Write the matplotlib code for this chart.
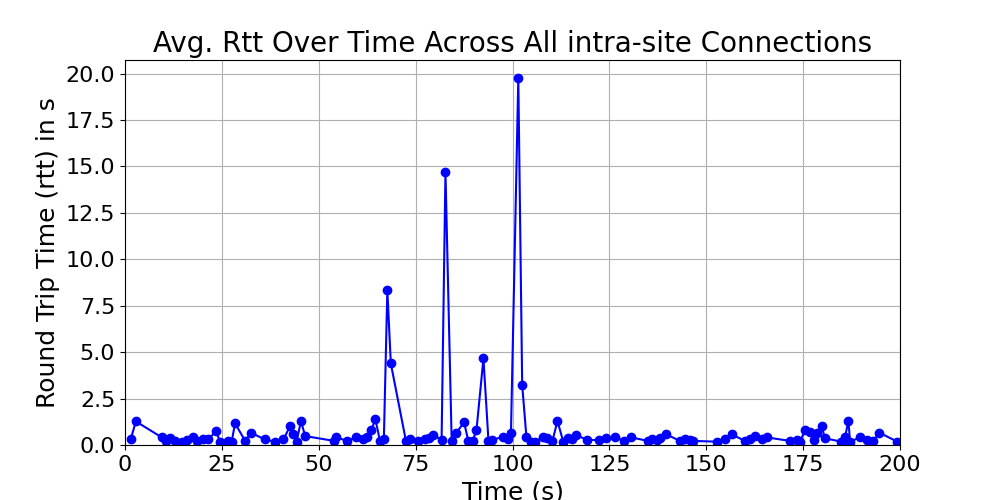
import matplotlib
matplotlib.use('Agg')
import matplotlib.pyplot as plt
from matplotlib.ticker import MultipleLocator

# time (s) and average rtt (s)
time_s = [
    1.5, 2.8, 9.5, 10.5, 11.6, 13.0, 14.6, 16.0, 17.6, 18.5, 20.0, 21.5, 23.5, 24.5,
    26.5, 27.5, 28.4, 31.0, 32.5, 36.1, 38.7, 40.9, 42.6, 43.4, 44.3, 45.4, 46.5,
    54.0, 54.5, 57.4, 59.6, 61.5, 62.5, 63.6, 64.6, 65.8, 66.8, 67.7, 68.6,
    72.5, 73.5, 75.5, 77.4, 78.5, 79.6, 81.7, 82.7, 84.3, 85.4, 87.5, 88.6, 89.7,
    90.7, 92.5, 93.8, 94.8, 97.6, 98.9, 99.6, 101.5, 102.5, 103.6, 104.9, 105.8,
    107.8, 108.8, 110.3, 111.6, 113.1, 114.4, 115.3, 116.4, 119.3, 122.4, 124.1,
    126.5, 128.8, 130.6, 135.0, 135.9, 137.2, 138.1, 139.5, 143.2, 144.5, 145.8,
    146.5, 152.7, 154.8, 156.6, 160.0, 161.3, 162.6, 164.3, 165.6, 171.6, 173.3,
    174.2, 175.5, 176.8, 177.8, 178.7, 179.8, 180.6, 184.9, 185.8, 186.7, 187.1,
    189.7, 191.4, 193.1, 194.7, 199.3,
]
avg_rtt = [
    0.32, 1.27, 0.41, 0.2, 0.36, 0.2, 0.18, 0.25, 0.45, 0.2, 0.3, 0.3, 0.75, 0.18,
    0.2, 0.15, 1.17, 0.22, 0.66, 0.3, 0.18, 0.3, 1.02, 0.59, 0.18, 1.29, 0.48,
    0.22, 0.41, 0.22, 0.41, 0.3, 0.41, 0.8, 1.4, 0.22, 0.3, 8.33, 4.39,
    0.22, 0.3, 0.2, 0.3, 0.35, 0.54, 0.27, 14.7, 0.22, 0.63, 1.22, 0.22, 0.22,
    0.8, 4.66, 0.22, 0.27, 0.45, 0.3, 0.63, 19.75, 3.23, 0.41, 0.18, 0.18,
    0.41, 0.36, 0.22, 1.29, 0.18, 0.36, 0.3, 0.54, 0.27, 0.27, 0.36,
    0.41, 0.22, 0.41, 0.22, 0.3, 0.27, 0.36, 0.59, 0.22, 0.3, 0.27,
    0.22, 0.18, 0.3, 0.57, 0.22, 0.3, 0.48, 0.3, 0.41, 0.22, 0.27,
    0.18, 0.8, 0.72, 0.27, 0.63, 1.02, 0.36, 0.18, 0.41, 1.31, 0.18,
    0.41, 0.27, 0.22, 0.66, 0.18,
]

fig, ax = plt.subplots(figsize=(10, 5), dpi=100)
ax.plot(time_s, avg_rtt, marker='o', color='blue')
ax.set_xlim(0, 200)
ax.set_ylim(bottom=0)
ax.yaxis.set_major_locator(MultipleLocator(2.5))
ax.set_title('Avg. Rtt Over Time Across All intra-site Connections', fontsize=20)
ax.set_xlabel('Time (s)', fontsize=18)
ax.set_ylabel('Round Trip Time (rtt) in s', fontsize=18)
ax.tick_params(labelsize=16)
ax.grid(True)

fig.savefig('out.png')
